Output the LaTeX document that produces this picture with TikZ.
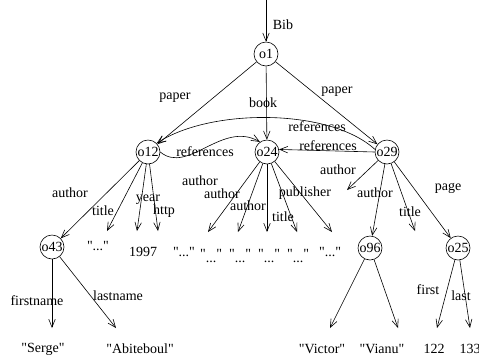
\documentclass[tikz,border=0pt]{standalone}
\usepackage{fontspec}
\setmainfont{Liberation Serif}[Ligatures=TeXOff]
\usetikzlibrary{arrows.meta}
\begin{document}
\begin{tikzpicture}[x=1pt,y=-1pt,
  line width=0.6pt,
  obj/.style={draw, circle, minimum size=24pt, inner sep=0pt, font=\fontsize{14}{16}\selectfont},
  lbl/.style={inner sep=0pt, font=\fontsize{14}{16}\selectfont},
  arr/.style={-{Straight Barb[length=8pt,width=6.5pt]}, line width=0.6pt}]
\useasboundingbox (0,0) rectangle (479,360);

% objects
\node[obj] (o1) at (266,54) {o1};
\node[obj] (o12) at (148,152) {o12};
\node[obj] (o24) at (267,152) {o24};
\node[obj] (o29) at (387,152) {o29};
\node[obj] (o43) at (52,247) {o43};
\node[obj] (o96) at (370,248) {o96};
\node[obj] (o25) at (458,248) {o25};

% root
\coordinate (top) at (266,0);
\draw[arr] (top) -- (o1);
\node[lbl] (lBib) at (283,25) {Bib};

% o1 edges
\draw[arr] (o1) -- (o12);
\draw[arr] (o1) -- (o24);
\draw[arr] (o1) -- (o29);
\node[lbl] (lp1) at (175,98) {paper};
\node[lbl] (lbook) at (263,103) {book};
\node[lbl] (lp2) at (337,92) {paper};

% references
\draw[arr] (o12.east) .. controls (188,175) and (222,120) .. (o24.125);
\node[lbl] (lr1) at (205,152) {references};
\draw[arr] (o29.west) -- (o24.12);
\node[lbl] (lr2) at (328,146) {references};
\draw[arr] (o29.168) .. controls (330,108) and (210,108) .. (o12.45);
\node[lbl] (lr3) at (317,127) {references};

% o12 edges
\coordinate (c12t) at (107,231);
\coordinate (c12y) at (137,231);
\coordinate (c12h) at (158,231);
\draw[arr] (o12) -- (o43);
\draw[arr] (o12) -- (c12t);
\draw[arr] (o12) -- (c12y);
\draw[arr] (o12) -- (c12h);
\node[lbl] (la1) at (70,193) {author};
\node[lbl] (lt1) at (103,211) {title};
\node[lbl] (ly1) at (148,200) {year};
\node[lbl] (lh1) at (164,211) {http};

% leaf values row
\node[lbl] (v1) at (98,246) {"..."};
\node[lbl] (v2) at (143,252) {1997};
\node[lbl] (v3) at (184,252) {"..."};
\node[lbl] (v4) at (211,256) {"\raisebox{-4pt}{...}"};
\node[lbl] (v5) at (240,256) {"\raisebox{-4pt}{...}"};
\node[lbl] (v6) at (269,256) {"\raisebox{-4pt}{...}"};
\node[lbl] (v7) at (298,256) {"\raisebox{-4pt}{...}"};
\node[lbl] (v8) at (330,252) {"..."};

% o24 edges
\coordinate (c24a) at (208,232);
\coordinate (c24b) at (238,232);
\coordinate (c24c) at (267,232);
\coordinate (c24d) at (297,232);
\coordinate (c24e) at (332,232);
\draw[arr] (o24) -- (c24a);
\draw[arr] (o24) -- (c24b);
\draw[arr] (o24) -- (c24c);
\draw[arr] (o24) -- (c24d);
\draw[arr] (o24) -- (c24e);
\node[lbl] (la2) at (200,181) {author};
\node[lbl] (la3) at (222,194) {author};
\node[lbl] (la4) at (248,206) {author};
\node[lbl] (lt2) at (283,217) {title};
\node[lbl] (lpub) at (305,193) {publisher};

% o29 edges
\coordinate (c29a) at (347,190);
\coordinate (c29t) at (415,231);
\draw[arr] (o29) -- (c29a);
\draw[arr] (o29) -- (o96);
\draw[arr] (o29) -- (c29t);
\draw[arr] (o29) -- (o25);
\node[lbl] (la5) at (338,170) {author};
\node[lbl] (la6) at (375,193) {author};
\node[lbl] (lt3) at (410,212) {title};
\node[lbl] (lpage) at (448,188) {page};

% o43 edges
\coordinate (c43f) at (52,328);
\coordinate (c43l) at (116,328);
\draw[arr] (o43) -- (c43f);
\draw[arr] (o43) -- (c43l);
\node[lbl] (lfn) at (37,301) {firstname};
\node[lbl] (lln) at (118,296) {lastname};
\node[lbl] (vS) at (43,349) {"Serge"};
\node[lbl] (vA) at (140,349) {"Abiteboul"};

% o96 edges
\coordinate (c96a) at (330,328);
\coordinate (c96b) at (398,328);
\draw[arr] (o96) -- (c96a);
\draw[arr] (o96) -- (c96b);
\node[lbl] (vVi) at (322,349) {"Victor"};
\node[lbl] (vVa) at (382,349) {"Vianu"};

% o25 edges
\coordinate (c25f) at (437,328);
\coordinate (c25l) at (470,328);
\draw[arr] (o25) -- (c25f);
\draw[arr] (o25) -- (c25l);
\node[lbl] (lfirst) at (428,290) {first};
\node[lbl] (llast) at (461,296) {last};
\node[lbl] (v122) at (434,349) {122};
\node[lbl] (v133) at (470,349) {133};
\end{tikzpicture}
\end{document}
